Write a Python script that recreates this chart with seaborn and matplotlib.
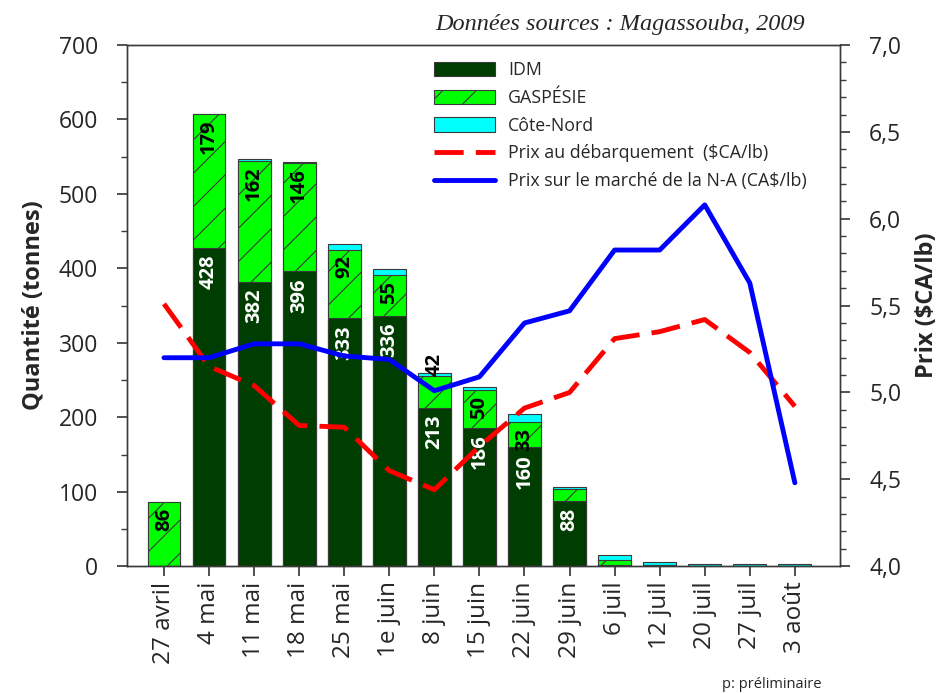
import matplotlib
matplotlib.use("Agg")
import matplotlib.pyplot as plt
import pandas as pd
import seaborn as sns
from matplotlib.lines import Line2D
from matplotlib.patches import Patch
from matplotlib.ticker import MultipleLocator

sns.set_theme(style="ticks")
plt.rcParams["font.family"] = ["Open Sans", "DejaVu Sans"]
plt.rcParams["hatch.linewidth"] = 0.8
plt.rcParams["hatch.color"] = "black"

# semaines de débarquement
CATEGORIES = ["27 avril", "4 mai", "11 mai", "18 mai", "25 mai", "1e juin",
              "8 juin", "15 juin", "22 juin", "29 juin", "6 juil", "12 juil",
              "20 juil", "27 juil", "3 août"]

# quantités (tonnes)
IDM = [0, 428, 382, 396, 333, 336, 213, 186, 160, 88, 2, 1, 0, 0, 0]
GASPESIE = [86, 179, 162, 146, 92, 55, 42, 50, 33, 16, 6, 0, 0, 0, 0]
COTE_NORD = [0, 1, 3, 1, 8, 8, 4, 5, 11, 2, 7, 5, 3, 3, 3]

# prix ($CA/lb)
PRIX_DEBARQUEMENT = [5.51, 5.15, 5.04, 4.81, 4.80, 4.55, 4.44, 4.69,
                     4.91, 5.00, 5.31, 5.35, 5.42, 5.23, 4.92]
PRIX_MARCHE = [5.20, 5.20, 5.28, 5.28, 5.21, 5.19, 5.01, 5.09,
               5.40, 5.47, 5.82, 5.82, 6.08, 5.63, 4.48]

LEFT_TICKS = [0, 100, 200, 300, 400, 500, 600, 700]
RIGHT_TICKS = [4.0, 4.5, 5.0, 5.5, 6.0, 6.5, 7.0]
RIGHT_TICK_LABELS = ["4,0", "4,5", "5,0", "5,5", "6,0", "6,5", "7,0"]

# label du 8 juin placé au-dessus de la barre
OUTSIDE_LABELS = {"8 juin"}

IDM_COLOR = "#003d00"
GASP_COLOR = "#00ff00"
CN_COLOR = "#00ffff"
EDGE = "#3a3a3a"
LW = 3.5
DASH = (0, (6, 2.5))

df = pd.DataFrame({"semaine": CATEGORIES, "idm": IDM,
                   "gasp": GASPESIE, "cn": COTE_NORD})
df["idm_gasp"] = df["idm"] + df["gasp"]
df["total"] = df["idm_gasp"] + df["cn"]

fig, ax = plt.subplots(figsize=(9.48, 6.93), dpi=100)
fig.subplots_adjust(left=0.134, right=0.886, bottom=0.183, top=0.935)

bar_kw = dict(width=0.73, edgecolor=EDGE, linewidth=0.8, saturation=1,
              errorbar=None, ax=ax)
sns.barplot(data=df, x="semaine", y="total", color=CN_COLOR, **bar_kw)
sns.barplot(data=df, x="semaine", y="idm_gasp", color=GASP_COLOR, hatch="/", **bar_kw)
sns.barplot(data=df, x="semaine", y="idm", color=IDM_COLOR, **bar_kw)

label_kw = dict(textcoords="offset points", rotation=90, ha="center",
                fontsize=14.5, fontweight="bold")
for i, row in df.iterrows():
    if row["idm"] >= 50:
        ax.annotate(str(row["idm"]), (i, row["idm"]), xytext=(0, -5),
                    va="top", color="white", **label_kw)
    if row["gasp"] >= 30:
        if row["semaine"] in OUTSIDE_LABELS:
            ax.annotate(str(row["gasp"]), (i, row["total"]), xytext=(0, -2),
                        va="bottom", color="black", **label_kw)
        else:
            ax.annotate(str(row["gasp"]), (i, row["idm_gasp"]), xytext=(0, -4),
                        va="top", color="black", **label_kw)

ax2 = ax.twinx()
sns.lineplot(x=CATEGORIES, y=PRIX_DEBARQUEMENT, sort=False, color="#ff0000",
             linewidth=LW, linestyle=DASH, ax=ax2)
sns.lineplot(x=CATEGORIES, y=PRIX_MARCHE, sort=False, color="#0000ff",
             linewidth=LW, ax=ax2)

ax.set_xlim(-0.82, 15.0)
ax.set_ylim(0, 700)
ax.set_yticks(LEFT_TICKS)
ax.yaxis.set_minor_locator(MultipleLocator(50))
ax2.set_ylim(4.0, 7.0)
ax2.set_yticks(RIGHT_TICKS)
ax2.set_yticklabels(RIGHT_TICK_LABELS)
ax2.yaxis.set_minor_locator(MultipleLocator(0.1))

ax.set_xlabel("")
ax2.set_xlabel("")
ax.tick_params(axis="x", labelsize=17.5, rotation=90, length=7, pad=4, color=EDGE)
ax.tick_params(axis="y", which="major", labelsize=16.5, length=7, pad=14, color=EDGE)
ax.tick_params(axis="y", which="minor", length=4, color=EDGE)
ax2.tick_params(axis="y", which="major", labelsize=16.5, length=7, pad=14, color=EDGE)
ax2.tick_params(axis="y", which="minor", length=4, color=EDGE)

for a in (ax, ax2):
    for s in a.spines.values():
        s.set_visible(True)
        s.set_color(EDGE)
        s.set_linewidth(1.0)

ax.set_ylabel("Quantité (tonnes)", fontsize=17, fontweight="bold")
ax.yaxis.set_label_coords(-0.115, 0.5)
ax2.set_ylabel("Prix ($CA/lb)", fontsize=17, fontweight="bold", rotation=90)
ax2.yaxis.set_label_coords(1.106, 0.5)

handles = [
    Patch(facecolor=IDM_COLOR, edgecolor=EDGE, linewidth=0.8),
    Patch(facecolor=GASP_COLOR, edgecolor=EDGE, linewidth=0.8, hatch="/"),
    Patch(facecolor=CN_COLOR, edgecolor=EDGE, linewidth=0.8),
    Line2D([], [], color="#ff0000", linewidth=LW, linestyle=DASH),
    Line2D([], [], color="#0000ff", linewidth=LW),
]
labels = ["IDM", "GASPÉSIE", "Côte-Nord",
          "Prix au débarquement  ($CA/lb)",
          "Prix sur le marché de la N-A (CA$/lb)"]
fig.legend(handles, labels, loc="upper left", bbox_to_anchor=(0.441, 0.935),
           frameon=False, fontsize=12.8, handlelength=3.4, handleheight=0.85,
           labelspacing=0.55, handletextpad=0.75, borderpad=0.4)

fig.text(0.849, 0.964, "Données sources : Magassouba, 2009", ha="right",
         va="center", fontsize=17.5, style="italic", family="Liberation Serif")
fig.text(0.867, 0.012, "p: préliminaire", ha="right", va="center", fontsize=10.5)

fig.savefig("out.png", dpi=100)
plt.close(fig)
